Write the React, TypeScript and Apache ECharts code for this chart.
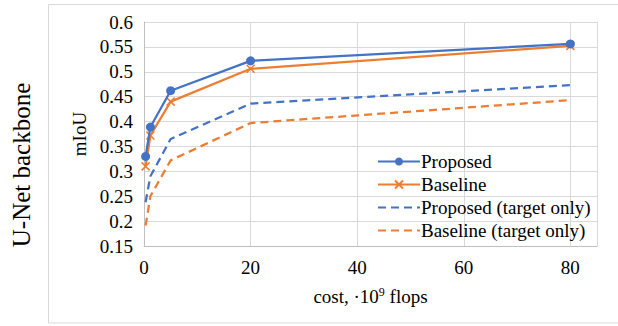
import React, { useEffect, useRef } from "react";
import * as echarts from "echarts";

const costX = [0.3, 1.2, 5, 20, 80];
const proposed = [0.33, 0.389, 0.462, 0.522, 0.556];
const baseline = [0.31, 0.372, 0.44, 0.506, 0.552];
const proposedTarget = [0.238, 0.29, 0.365, 0.436, 0.473];
const baselineTarget = [0.191, 0.25, 0.322, 0.397, 0.443];
const seriesNames = ["Proposed", "Baseline", "Proposed (target only)", "Baseline (target only)"];
const xTicks = [0, 20, 40, 60, 80];

const BLUE = "#4472C4";
const ORANGE = "#ED7D31";
const FONT = "Liberation Serif";

export default function App() {
  const ref = useRef<HTMLDivElement>(null);
  useEffect(() => {
    if (!ref.current) return;
    const chart = echarts.init(ref.current, undefined, { renderer: "svg" });
    const pts = (ys: number[]) => costX.map((x, i) => [x, ys[i]]);
    chart.setOption({
      animation: false,
      textStyle: { fontFamily: FONT },
      graphic: [
        {
          type: "rect",
          shape: { x: 48.5, y: 4.5, width: 580, height: 318.5 },
          style: { fill: "none", stroke: "#d9d9d9", lineWidth: 1 },
          silent: true,
        },
        {
          type: "text",
          x: 21,
          y: 165,
          rotation: Math.PI / 2,
          style: {
            text: "U-Net backbone",
            fontFamily: FONT,
            fontSize: 25,
            fill: "#000",
            align: "center",
            verticalAlign: "middle",
          },
        },
      ],
      grid: { left: 144, right: 21, top: 22, bottom: 80 },
      legend: {
        orient: "vertical",
        left: 372,
        top: 147,
        itemWidth: 42,
        itemHeight: 10,
        itemGap: 4,
        data: seriesNames,
        textStyle: { fontFamily: FONT, fontSize: 19, color: "#000", padding: [0, 0, 0, -4] },
      },
      xAxis: {
        type: "value",
        min: 0,
        max: 85,
        interval: 20,
        name: "{a|cost, ·10}{s|9}{a| flops}",
        nameLocation: "middle",
        nameGap: 40,
        nameTextStyle: {
          fontFamily: FONT,
          rich: {
            a: { fontFamily: FONT, fontSize: 19, color: "#000" },
            s: { fontFamily: FONT, fontSize: 12, color: "#000", verticalAlign: "top", padding: [0, 0, 8, 0] },
          },
        },
        axisLine: { show: true, lineStyle: { color: "#bfbfbf", width: 1 } },
        axisTick: { show: false },
        axisLabel: {
          showMaxLabel: false,
          fontFamily: FONT,
          fontSize: 19,
          color: "#000",
          margin: 12,
          formatter: (v: number) => (xTicks.includes(v) ? String(v) : ""),
        },
        splitLine: { show: true, lineStyle: { color: "#d9d9d9", width: 1 } },
      },
      yAxis: {
        type: "value",
        min: 0.15,
        max: 0.6,
        interval: 0.05,
        name: "mIoU",
        nameLocation: "middle",
        nameGap: 53,
        nameRotate: 90,
        nameTextStyle: { fontFamily: FONT, fontSize: 19, color: "#000" },
        axisLine: { show: true, lineStyle: { color: "#bfbfbf", width: 1 } },
        axisTick: { show: false },
        axisLabel: {
          fontFamily: FONT,
          fontSize: 19,
          color: "#000",
          margin: 11,
          formatter: (v: number) => String(Math.round(v * 100) / 100),
        },
        splitLine: { show: true, lineStyle: { color: "#d9d9d9", width: 1 } },
      },
      series: [
        {
          name: seriesNames[0],
          type: "line",
          data: pts(proposed),
          symbol: "circle",
          symbolSize: 9,
          itemStyle: { color: BLUE },
          lineStyle: { color: BLUE, width: 2.25 },
          z: 5,
        },
        {
          name: seriesNames[1],
          type: "line",
          data: pts(baseline),
          symbol: "path://M0,0L10,10M10,0L0,10",
          symbolSize: 8,
          itemStyle: { color: ORANGE, borderColor: ORANGE, borderWidth: 1.5 },
          lineStyle: { color: ORANGE, width: 2.25 },
          z: 4,
        },
        {
          name: seriesNames[2],
          type: "line",
          data: pts(proposedTarget),
          symbol: "none",
          itemStyle: { color: "rgba(0,0,0,0)" },
          lineStyle: { color: BLUE, width: 2.25, type: [8, 5] },
        },
        {
          name: seriesNames[3],
          type: "line",
          data: pts(baselineTarget),
          symbol: "none",
          itemStyle: { color: "rgba(0,0,0,0)" },
          lineStyle: { color: ORANGE, width: 2.25, type: [8, 5] },
        },
      ],
    });
    return () => chart.dispose();
  }, []);
  return <div ref={ref} style={{ width: 618, height: 326, position: "absolute", left: 0, top: 0 }} />;
}
